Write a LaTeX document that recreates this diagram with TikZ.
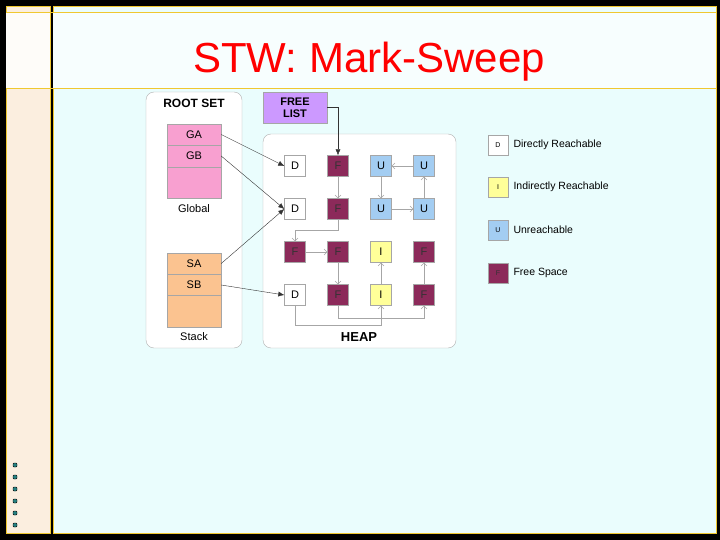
\documentclass[tikz,border=0pt]{standalone}
\usepackage{fontspec}
\setmainfont{Liberation Sans}
\usetikzlibrary{arrows.meta}
\definecolor{fcol}{HTML}{8C2A5A}
\definecolor{ucol}{HTML}{A3CDF2}
\definecolor{icol}{HTML}{FFFF99}
\definecolor{pinkc}{HTML}{F8A0D0}
\definecolor{orc}{HTML}{FBC390}
\definecolor{purc}{HTML}{CC99FF}
\definecolor{panel}{HTML}{EAFDFD}
\definecolor{strip}{HTML}{FBEEDF}
\definecolor{gold}{HTML}{F0C830}
\tikzset{
 cell/.style={draw=gray!70,minimum size=21pt,inner sep=0pt,font=\fontsize{11}{12}\selectfont},
 dc/.style={cell,fill=white},
 fc/.style={cell,fill=fcol,text=black!80},
 uc/.style={cell,fill=ucol},
 ic/.style={cell,fill=icol},
 blk/.style={draw=gray!70,minimum width=54pt,inner sep=0pt,font=\fontsize{11}{12}\selectfont},
 grp/.style={draw=gray!60,rounded corners=8pt,fill=white},
 ga/.style={-{Latex[length=6pt,width=5pt]},black!80,thin},
 gr/.style={-{Straight Barb[length=3pt]},gray!70,thin},
 leg/.style={anchor=west,font=\fontsize{10.5}{12}\selectfont},
 lc/.style={minimum size=20pt,font=\fontsize{7}{8}\selectfont}
}
\begin{document}
\begin{tikzpicture}[x=1pt,y=-1pt]
\useasboundingbox (0,0) rectangle (720,540);
\fill[black] (0,0) rectangle (720,540);
\fill[strip,draw=gold] (6,6) rectangle (50,533);
\fill[panel,draw=gold] (53,6) rectangle (716,533);
\fill[white!60!panel] (53,12) rectangle (716,88);
\fill[white!80!strip] (6,12) rectangle (50,88);
\draw[gold] (6,12) -- (716,12);
\draw[gold] (6,88) -- (716,88);
\node[text=red,font=\fontsize{42}{46}\selectfont] (title) at (369,62) {STW: Mark-Sweep};
\foreach \i in {0,...,5} \node[draw=black,fill=teal!70!gray,minimum size=4pt,inner sep=0pt,rounded corners=1pt] (dot\i) at (15,465+12*\i) {};
% root set
\draw[grp] (146,92) rectangle (242,348);
\node[font=\bfseries\fontsize{12}{14}\selectfont] (rs) at (194,103) {ROOT SET};
\node[blk,fill=pinkc,minimum height=21pt] (GA) at (194,134.5) {GA};
\node[blk,fill=pinkc,minimum height=22pt] (GB) at (194,156) {GB};
\node[blk,fill=pinkc,minimum height=31pt] (GE) at (194,182.5) {};
\node[font=\fontsize{11}{12}\selectfont] (glob) at (194,209) {Global};
\node[blk,fill=orc,minimum height=21pt] (SA) at (194,263.5) {SA};
\node[blk,fill=orc,minimum height=22pt] (SB) at (194,285) {SB};
\node[blk,fill=orc,minimum height=32pt] (SE) at (194,311) {};
\node[font=\fontsize{11}{12}\selectfont] (stk) at (194,337) {Stack};
% free list
\node[draw=gray!70,fill=purc,minimum width=64pt,minimum height=31pt,align=center,font=\bfseries\fontsize{11}{12}\selectfont,inner sep=0pt] (FL) at (295,107.5) {FREE\\LIST};
% heap
\draw[grp] (263,134) rectangle (456,348);
\node[font=\bfseries\fontsize{13}{14}\selectfont] (heap) at (359,337) {HEAP};
\node[dc] (c11) at (295,166) {D};
\node[fc] (c12) at (338,166) {F};
\node[uc] (c13) at (381,166) {U};
\node[uc] (c14) at (424,166) {U};
\node[dc] (c21) at (295,209) {D};
\node[fc] (c22) at (338,209) {F};
\node[uc] (c23) at (381,209) {U};
\node[uc] (c24) at (424,209) {U};
\node[fc] (c31) at (295,252) {F};
\node[fc] (c32) at (338,252) {F};
\node[ic] (c33) at (381,252) {I};
\node[fc] (c34) at (424,252) {F};
\node[dc] (c41) at (295,295) {D};
\node[fc] (c42) at (338,295) {F};
\node[ic] (c43) at (381,295) {I};
\node[fc] (c44) at (424,295) {F};
% black arrows
\draw[ga] (GA.east) -- (c11.west);
\draw[ga] (GB.east) -- (c21.west);
\draw[ga] (SA.east) -- (c21.west);
\draw[ga] (SB.east) -- (c41.west);
\draw[ga] (FL.east) -| (c12.north);
% grey arrows
\draw[gr] (c12) -- (c22);
\draw[gr] (c22.south) |- (338,230) -| (c31.north);
\draw[gr] (c31) -- (c32);
\draw[gr] (c32) -- (c42);
\draw[gr] (c14) -- (c13);
\draw[gr] (c13) -- (c23);
\draw[gr] (c23) -- (c24);
\draw[gr] (c24) -- (c14);
\draw[gr] (c43) -- (c33);
\draw[gr] (c44) -- (c34);
\draw[gr] (c42.south) |- (424,318) -- (c44.south);
\draw[gr] (c41.south) |- (381,325) -- (c43.south);
% legend
\node[dc,lc] (l1) at (498,145) {D};
\node[leg] (t1) at (510,145) {Directly Reachable};
\node[ic,lc] (l2) at (498,187) {I};
\node[leg] (t2) at (510,187) {Indirectly Reachable};
\node[uc,lc] (l3) at (498,230) {U};
\node[leg] (t3) at (510,230) {Unreachable};
\node[fc,lc] (l4) at (498,273) {F};
\node[leg] (t4) at (510,273) {Free Space};
\end{tikzpicture}
\end{document}
